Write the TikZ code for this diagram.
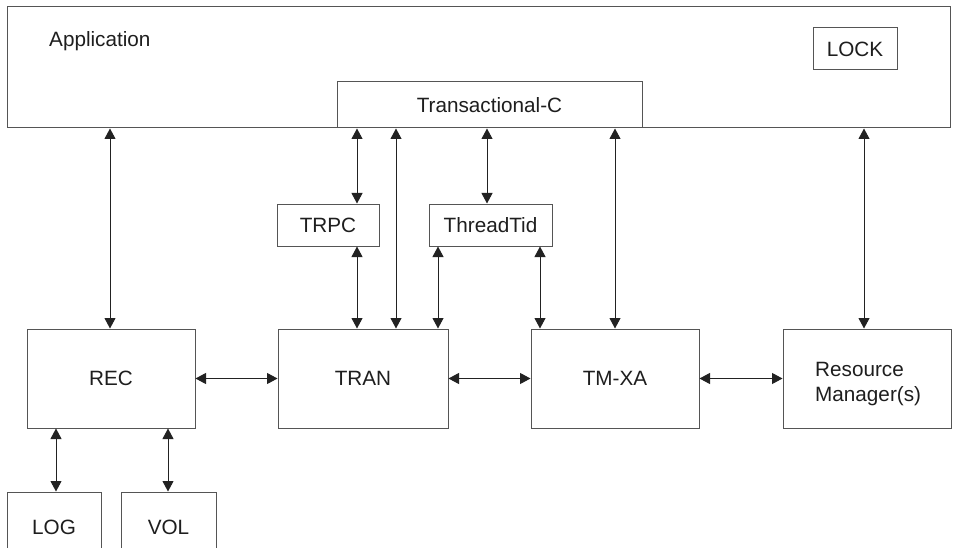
\documentclass[tikz,border=0pt]{standalone}
\usepackage{fontspec}
\setmainfont{Liberation Sans}
\usetikzlibrary{arrows.meta}
\definecolor{linegray}{HTML}{222222}
\definecolor{boxgray}{HTML}{555555}
\definecolor{textcol}{HTML}{1E1E1E}
\begin{document}
\begin{tikzpicture}[x=1pt,y=-1pt,
  lbl/.style={font=\fontsize{20.7}{25}\selectfont, text=textcol, inner sep=0pt},
  box/.style={draw=boxgray, line width=1pt, inner sep=0pt, fill=white,
    font=\fontsize{20.7}{25}\selectfont, text=textcol, text height=14.8pt, text depth=0pt},
  link/.style={draw=linegray, line width=1pt,
    {Triangle[length=10.5pt,width=11pt]}-{Triangle[length=10.5pt,width=11pt]}},
]
\useasboundingbox (0,0) rectangle (955,548);
\clip (0,0) rectangle (955,548);
\fill[white] (0,0) rectangle (955,548);

% boxes
\node[box, minimum width=943pt, minimum height=121pt] (app) at (478.5,67.5) {};
\node[lbl, anchor=base west] (apptext) at (49,47) {Application};
\node[box, minimum width=84pt, minimum height=42pt] (lock) at (855,49) {LOCK};
\node[box, minimum width=305pt, minimum height=46pt] (tc) at (489.5,105) {Transactional-C};
\node[box, minimum width=102pt, minimum height=42pt] (trpc) at (328,225) {TRPC};
\node[box, minimum width=123pt, minimum height=42pt] (tt) at (490.5,225) {ThreadTid};
\node[box, minimum width=168pt, minimum height=99pt] (rec) at (111,378.5) {REC};
\node[box, minimum width=170pt, minimum height=99pt] (tran) at (363,378.5) {TRAN};
\node[box, minimum width=168pt, minimum height=99pt] (tmxa) at (615,378.5) {TM-XA};
\node[box, minimum width=168pt, minimum height=99pt] (rm) at (867,378.5) {};
\node[lbl, align=left, anchor=north west] (rmtext) at (815,362.3) {Resource\\Manager(s)};
\node[box, minimum width=94pt, minimum height=70pt] (log) at (54,527) {LOG};
\node[box, minimum width=95pt, minimum height=70pt] (vol) at (168.5,527) {VOL};

% x positions of vertical connectors
\coordinate (xrec) at (110,0);
\coordinate (xa) at (357,0);
\coordinate (xb) at (396,0);
\coordinate (xc) at (487,0);
\coordinate (xd) at (615,0);
\coordinate (xe) at (864,0);
\coordinate (xf) at (438,0);
\coordinate (xg) at (540,0);
\coordinate (xh) at (56,0);
\coordinate (xi) at (168,0);

% connectors
\draw[link] (rec.north -| xrec) -- (app.south -| xrec);
\draw[link] (trpc.north -| xa) -- (tc.south -| xa);
\draw[link] (tran.north -| xb) -- (tc.south -| xb);
\draw[link] (tt.north -| xc) -- (tc.south -| xc);
\draw[link] (tmxa.north -| xd) -- (tc.south -| xd);
\draw[link] (rm.north -| xe) -- (app.south -| xe);
\draw[link] (trpc.south -| xa) -- (tran.north -| xa);
\draw[link] (tt.south -| xf) -- (tran.north -| xf);
\draw[link] (tt.south -| xg) -- (tmxa.north -| xg);
\draw[link] (rec.east) -- (tran.west);
\draw[link] (tran.east) -- (tmxa.west);
\draw[link] (tmxa.east) -- (rm.west);
\draw[link] (log.north -| xh) -- (rec.south -| xh);
\draw[link] (vol.north -| xi) -- (rec.south -| xi);
\end{tikzpicture}
\end{document}
